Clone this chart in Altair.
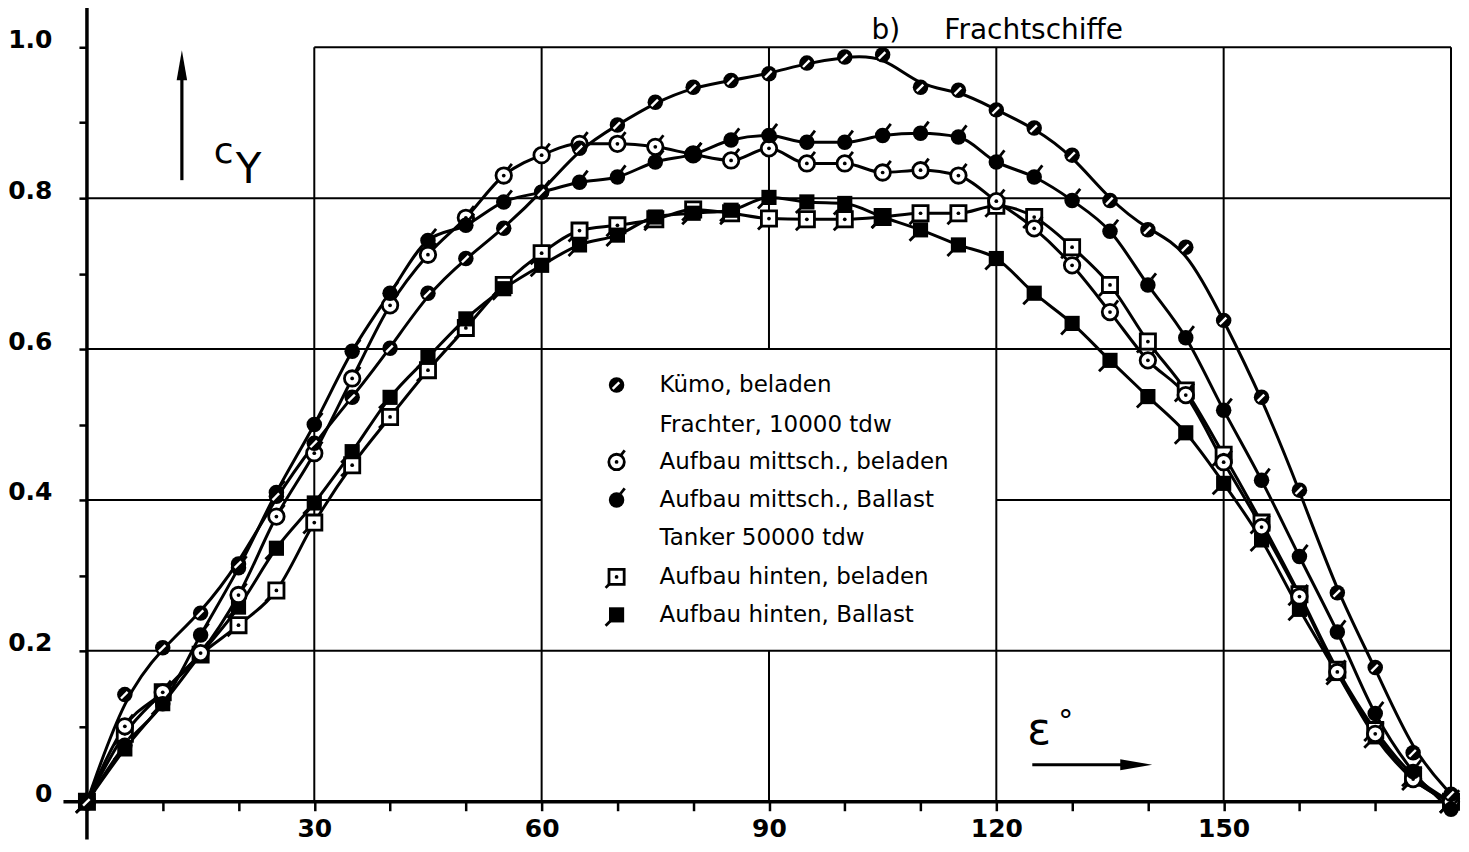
import altair as alt
import pandas as pd

# ---------------- data ----------------
eps = [0, 5, 10, 15, 20, 25, 30, 35, 40, 45, 50, 55, 60, 65, 70, 75, 80, 85, 90,
       95, 100, 105, 110, 115, 120, 125, 130, 135, 140, 145, 150, 155, 160, 165,
       170, 175, 180]

kuemo = [0, 0.142, 0.204, 0.25, 0.315, 0.405, 0.475, 0.536, 0.601, 0.674, 0.72,
         0.76, 0.808, 0.866, 0.897, 0.927, 0.947, 0.956, 0.965, 0.979, 0.987,
         0.99, 0.947, 0.943, 0.917, 0.893, 0.857, 0.797, 0.758, 0.735, 0.638,
         0.536, 0.413, 0.277, 0.178, 0.065, 0.01]
mitt_bel = [0, 0.10, 0.145, 0.197, 0.274, 0.378, 0.462, 0.561, 0.658, 0.725,
            0.774, 0.83, 0.857, 0.872, 0.872, 0.868, 0.858, 0.85, 0.866, 0.846,
            0.846, 0.834, 0.837, 0.83, 0.796, 0.76, 0.711, 0.649, 0.585, 0.539,
            0.45, 0.364, 0.272, 0.172, 0.09, 0.03, 0.0]
mitt_bal = [0, 0.075, 0.13, 0.221, 0.31, 0.41, 0.50, 0.597, 0.674, 0.744, 0.764,
            0.795, 0.808, 0.821, 0.828, 0.848, 0.858, 0.877, 0.883, 0.874, 0.874,
            0.883, 0.886, 0.881, 0.848, 0.828, 0.797, 0.756, 0.685, 0.615, 0.519,
            0.426, 0.325, 0.225, 0.117, 0.04, -0.01]
hint_bel = [0, 0.09, 0.145, 0.195, 0.234, 0.28, 0.37, 0.446, 0.51, 0.572, 0.628,
            0.685, 0.727, 0.757, 0.764, 0.772, 0.785, 0.78, 0.773, 0.772, 0.772,
            0.775, 0.78, 0.78, 0.79, 0.775, 0.735, 0.685, 0.61, 0.545, 0.46,
            0.37, 0.275, 0.175, 0.095, 0.035, 0]
hint_bal = [0, 0.07, 0.13, 0.195, 0.258, 0.336, 0.396, 0.464, 0.536, 0.589, 0.64,
            0.68, 0.711, 0.738, 0.751, 0.775, 0.78, 0.784, 0.801, 0.795, 0.793,
            0.775, 0.758, 0.738, 0.72, 0.674, 0.634, 0.585, 0.537, 0.489, 0.422,
            0.347, 0.255, 0.17, 0.086, 0.03, 0]

series_keys = ["kuemo", "mitt_bel", "mitt_bal", "hint_bel", "hint_bal"]
series_vals = [kuemo, mitt_bel, mitt_bal, hint_bel, hint_bal]

legend_labels = ["Kümo, beladen", "Frachter, 10000 tdw", "Aufbau mittsch., beladen",
                 "Aufbau mittsch., Ballast", "Tanker  50000 tdw",
                 "Aufbau hinten, beladen", "Aufbau hinten, Ballast"]
legend_kinds = ["kuemo", None, "mitt_bel", "mitt_bal", None, "hint_bel", "hint_bal"]

y_ticks = [0, 0.1, 0.2, 0.3, 0.4, 0.5, 0.6, 0.7, 0.8, 0.9, 1.0]
x_ticks = list(range(0, 181, 10))

# grid segments (vertical: x, y1, y2 ; horizontal: y, x1, x2)
gv_x = [30, 60, 90, 90, 120, 150, 180]
gv_y1 = [0, 0, 0, 0.6, 0, 0, 0]
gv_y2 = [1, 1, 0.2, 1, 1, 1, 1]
gh_y = [0.2, 0.4, 0.4, 0.6, 0.8, 1.0]
gh_x1 = [0, 0, 120, 0, 0, 30]
gh_x2 = [180, 60, 180, 180, 180, 180]

# ---------------- tables ----------------
rows = []
for k, vals in zip(series_keys, series_vals):
    for e, v in zip(eps, vals):
        rows.append({"eps": e, "cy": v, "series": k})
df = pd.DataFrame(rows)

gv = pd.DataFrame({"x": gv_x, "y1": gv_y1, "y2": gv_y2})
gh = pd.DataFrame({"y": gh_y, "x1": gh_x1, "x2": gh_x2})
ax_v = pd.DataFrame({"x": [0], "y1": [-0.05], "y2": [1.052]})
ax_h = pd.DataFrame({"y": [0], "x1": [-3.1], "x2": [181]})

BLACK = "#000000"
FONT = "DejaVu Sans"

xs = alt.Scale(domain=[0, 180], nice=False, zero=False)
ys = alt.Scale(domain=[0, 1], nice=False, zero=False)

xaxis = alt.Axis(values=x_ticks, title=None, grid=False, domain=False,
                 tickSize=9, tickWidth=2.5, tickColor=BLACK,
                 labelExpr="(datum.value % 30 == 0 && datum.value > 0 && datum.value < 180) ? format(datum.value, 'd') : ''",
                 labelFont=FONT, labelFontSize=25, labelFontWeight="bold",
                 labelColor=BLACK, labelPadding=6, labelFlush=False)
yaxis = alt.Axis(values=y_ticks, title=None, grid=False, domain=False,
                 tickSize=8, tickWidth=2.5, tickColor=BLACK,
                 labelExpr="datum.value == 0 ? '0' : (round(datum.value * 10) % 2 == 0 ? format(datum.value, '.1f') : '')",
                 labelFont=FONT, labelFontSize=25, labelFontWeight="bold",
                 labelColor=BLACK, labelPadding=27, labelOffset=-8, labelFlush=False)


def X(f):
    return alt.X(f, scale=xs, axis=xaxis)


def Y(f):
    return alt.Y(f, scale=ys, axis=yaxis)


layers = []

# grid and frame
layers.append(alt.Chart(gv).mark_rule(color=BLACK, strokeWidth=2).encode(
    x=X("x:Q"), y=Y("y1:Q"), y2="y2:Q"))
layers.append(alt.Chart(gh).mark_rule(color=BLACK, strokeWidth=2).encode(
    y=Y("y:Q"), x=X("x1:Q"), x2="x2:Q"))
layers.append(alt.Chart(ax_v).mark_rule(color=BLACK, strokeWidth=3.5).encode(
    x=X("x:Q"), y=Y("y1:Q"), y2="y2:Q"))
layers.append(alt.Chart(ax_h).mark_rule(color=BLACK, strokeWidth=3.5).encode(
    y=Y("y:Q"), x=X("x1:Q"), x2="x2:Q"))

# curves: Kümo drawn as a smooth hand-faired curve, others through the points
layers.append(alt.Chart(df).transform_filter(alt.datum.series == "kuemo").mark_line(
    color=BLACK, strokeWidth=3, interpolate="basis").encode(
    x=X("eps:Q"), y=Y("cy:Q")))
layers.append(alt.Chart(df).transform_filter(alt.datum.series != "kuemo").mark_line(
    color=BLACK, strokeWidth=3, interpolate="monotone").encode(
    x=X("eps:Q"), y=Y("cy:Q"), detail="series:N"))

S_C = 240
S_S = 230
SLASH = "M-0.5,0.5L0.35,-0.35"
TAIL_C = "M0.5,-0.8L1.05,-1.5"
TAIL_S = "M-0.85,0.85L-1.45,1.45"


def marker_layers(kind, base, x, y):
    out = []
    if kind == "kuemo":
        out.append(base.mark_point(shape="circle", size=S_C, filled=True, color=BLACK,
                                   opacity=1).encode(x=x, y=y))
        out.append(base.mark_point(shape=SLASH, size=S_C, filled=False, color="white",
                                   strokeWidth=2.4, opacity=1).encode(x=x, y=y))
    elif kind == "mitt_bel":
        out.append(base.mark_point(shape=TAIL_C, size=S_C, filled=False, color=BLACK,
                                   strokeWidth=2.8, opacity=1).encode(x=x, y=y))
        out.append(base.mark_point(shape="circle", size=S_C, filled=True, fill="white",
                                   stroke=BLACK, strokeWidth=2.8, opacity=1).encode(x=x, y=y))
        out.append(base.mark_point(shape="circle", size=14, filled=True, color=BLACK,
                                   opacity=1).encode(x=x, y=y))
    elif kind == "mitt_bal":
        out.append(base.mark_point(shape=TAIL_C, size=S_C, filled=False, color=BLACK,
                                   strokeWidth=2.8, opacity=1).encode(x=x, y=y))
        out.append(base.mark_point(shape="circle", size=S_C, filled=True, color=BLACK,
                                   opacity=1).encode(x=x, y=y))
    elif kind == "hint_bel":
        out.append(base.mark_point(shape=TAIL_S, size=S_S, filled=False, color=BLACK,
                                   strokeWidth=2.8, opacity=1).encode(x=x, y=y))
        out.append(base.mark_point(shape="square", size=S_S, filled=True, fill="white",
                                   stroke=BLACK, strokeWidth=2.8, opacity=1).encode(x=x, y=y))
        out.append(base.mark_point(shape="circle", size=14, filled=True, color=BLACK,
                                   opacity=1).encode(x=x, y=y))
    elif kind == "hint_bal":
        out.append(base.mark_point(shape=TAIL_S, size=S_S, filled=False, color=BLACK,
                                   strokeWidth=2.8, opacity=1).encode(x=x, y=y))
        out.append(base.mark_point(shape="square", size=S_S, filled=True, color=BLACK,
                                   opacity=1).encode(x=x, y=y))
    return out


# markers on the curves
for k in ["hint_bel", "hint_bal", "mitt_bel", "mitt_bal", "kuemo"]:
    base = alt.Chart(df).transform_filter(alt.datum.series == k)
    layers += marker_layers(k, base, X("eps:Q"), Y("cy:Q"))

# legend (pixel positions inside the plot area)
one = pd.DataFrame({"k": [0]})
leg_y = [338, 378, 415, 453, 491, 530, 568]
for lab, kind, py in zip(legend_labels, legend_kinds, leg_y):
    if kind:
        layers += marker_layers(kind, alt.Chart(one), alt.value(530), alt.value(py))
    layers.append(alt.Chart(pd.DataFrame({"t": [lab]})).mark_text(
        align="left", baseline="middle", font=FONT, fontSize=23, color=BLACK).encode(
        text="t:N", x=alt.value(573), y=alt.value(py)))


# annotations: c_Y with arrow, epsilon with arrow, title
def txt(s, x, y, size, weight="normal", baseline="alphabetic"):
    return alt.Chart(pd.DataFrame({"t": [s]})).mark_text(
        align="left", baseline=baseline, font=FONT, fontSize=size, fontWeight=weight,
        color=BLACK).encode(text="t:N", x=alt.value(x), y=alt.value(y))


layers.append(alt.Chart(one).mark_rule(color=BLACK, strokeWidth=3.2).encode(
    x=alt.value(95), y=alt.value(20), y2=alt.value(133)))
layers.append(alt.Chart(one).mark_point(shape="M0,-1L0.35,1L-0.35,1Z", size=900,
                                        filled=True, color=BLACK, opacity=1).encode(
    x=alt.value(95), y=alt.value(18)))
layers.append(txt("c", 127, 116, 36))
layers.append(txt("Y", 149, 136, 42))

layers.append(alt.Chart(one).mark_rule(color=BLACK, strokeWidth=3.2).encode(
    x=alt.value(946), x2=alt.value(1040), y=alt.value(718)))
layers.append(alt.Chart(one).mark_point(shape="M1,0L-1,-0.35L-1,0.35Z", size=1024,
                                        filled=True, color=BLACK, opacity=1).encode(
    x=alt.value(1050), y=alt.value(718)))
layers.append(txt("ε", 941, 697, 44))
layers.append(txt("°", 972, 684, 30))

layers.append(txt("b)", 785, -16, 28, baseline="middle"))
layers.append(txt("Frachtschiffe", 858, -16, 28, baseline="middle"))

chart = alt.layer(*layers).properties(
    width=1365, height=755,
    padding={"left": 79, "top": 39, "right": 10, "bottom": 42},
    autosize=alt.AutoSizeParams(type="none"),
    background="white",
).configure_view(stroke=None)

chart.save("out.html", embed_options={"renderer": "svg", "actions": False})
